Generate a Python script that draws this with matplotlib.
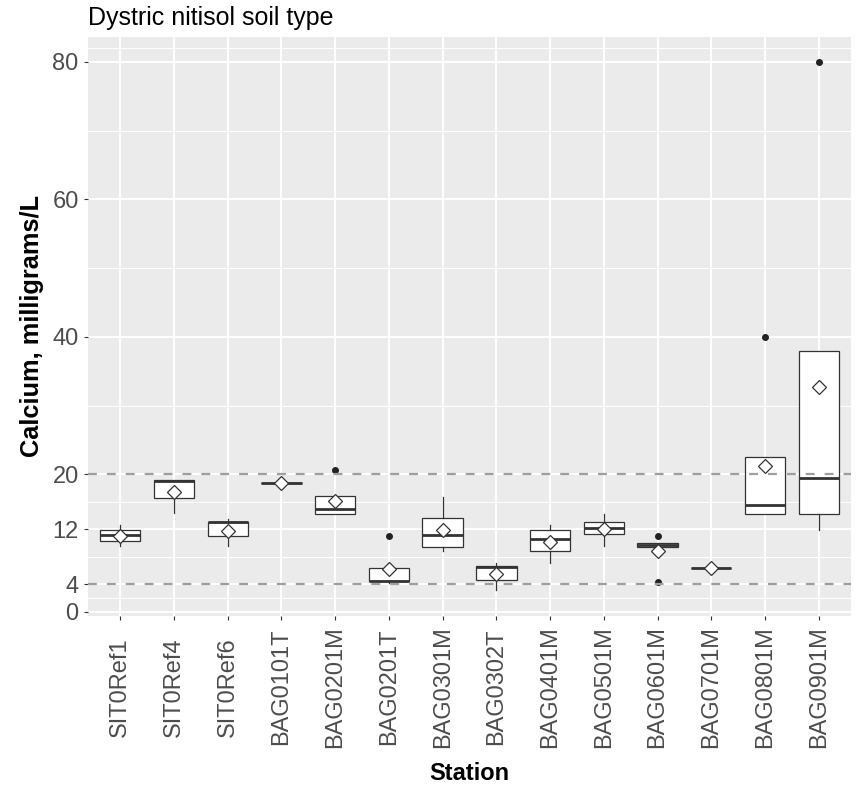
import matplotlib
matplotlib.use("Agg")
import matplotlib.pyplot as plt
from matplotlib.ticker import FixedLocator

# ---- data ----
stations = ["SIT0Ref1", "SIT0Ref4", "SIT0Ref6", "BAG0101T", "BAG0201M", "BAG0201T",
            "BAG0301M", "BAG0302T", "BAG0401M", "BAG0501M", "BAG0601M", "BAG0701M",
            "BAG0801M", "BAG0901M"]
q1 = [10.25, 16.6, 11.1, 18.8, 14.2, 4.45, 9.45, 4.6, 8.9, 11.3, 9.45, 6.35, 14.2, 14.2]
medians = [11.15, 19.1, 13.0, 18.8, 14.95, 4.55, 11.15, 6.5, 10.55, 12.15, 9.75, 6.35, 15.5, 19.5]
q3 = [11.85, 19.2, 13.05, 18.8, 16.85, 6.35, 13.7, 6.65, 11.85, 13.0, 9.95, 6.35, 22.5, 37.9]
whisker_low = [9.55, 14.4, 9.55, 18.8, 14.2, 4.2, 8.85, 3.15, 7.15, 9.6, 9.45, 6.35, 14.2, 11.9]
whisker_high = [12.6, 19.2, 13.5, 18.8, 16.85, 6.35, 16.65, 7.05, 12.65, 14.2, 9.95, 6.35, 22.5, 37.9]
means = [11.05, 17.45, 11.8, 18.7, 16.1, 6.2, 11.9, 5.45, 10.15, 12.05, 8.9, 6.35, 21.25, 32.65]
outliers = [[], [], [], [], [20.6], [11.1], [], [], [], [], [11.1, 4.4], [], [40.0], [80.0]]
y_ticks = [0, 4, 12, 20, 40, 60, 80]
y_minor = [2, 8, 16, 30, 50, 70, 82]
ref_lines = [4, 20]

title = "Dystric nitisol soil type"
xlabel = "Station"
ylabel = "Calcium, milligrams/L"

# ---- style ----
plt.rcParams['font.family'] = ['Liberation Sans', 'DejaVu Sans']
W, H = 856, 785
fig = plt.figure(figsize=(W / 100, H / 100), dpi=100)
ax = fig.add_axes([88 / W, 1 - 616 / H, (851 - 88) / W, (616 - 37) / H])
ax.set_facecolor('#EBEBEB')
for s in ax.spines.values():
    s.set_visible(False)

stats = []
for i, name in enumerate(stations):
    stats.append(dict(label=name, med=medians[i], q1=q1[i], q3=q3[i],
                      whislo=whisker_low[i], whishi=whisker_high[i],
                      mean=means[i], fliers=outliers[i]))

positions = list(range(1, len(stations) + 1))
edge = '#333333'
res = ax.bxp(stats, positions=positions, widths=0.75, showcaps=False,
             showmeans=True, patch_artist=True,
             boxprops=dict(facecolor='white', edgecolor=edge, linewidth=0.9),
             whiskerprops=dict(color=edge, linewidth=0.9),
             medianprops=dict(color=edge, linewidth=2.0, solid_capstyle='butt'),
             flierprops=dict(marker='o', markerfacecolor='#222222',
                             markeredgecolor='#222222', markersize=4.0),
             meanprops=dict(marker='D', markerfacecolor='white',
                            markeredgecolor=edge, markersize=7.6,
                            markeredgewidth=0.9),
             zorder=2)
for m in res['means']:
    m.set_zorder(5)

for yv in ref_lines:
    ax.axhline(yv, color='#9E9E9E', linewidth=1.6, linestyle=(0, (4.0, 4.5)), zorder=3)

ax.set_xlim(0.4, len(stations) + 0.6)
ax.set_ylim(-0.6, 83.6)
ax.yaxis.set_major_locator(FixedLocator(y_ticks))
ax.yaxis.set_minor_locator(FixedLocator(y_minor))
ax.set_yticklabels([str(t) for t in y_ticks])
ax.set_xticks(positions)
ax.set_xticklabels(stations, rotation=90, ha='center', va='center')

ax.set_axisbelow(True)
ax.grid(which='major', axis='both', color='white', linewidth=1.4)
ax.grid(which='minor', axis='y', color='white', linewidth=0.7)
ax.tick_params(axis='both', which='major', length=3.2, width=0.8, color=edge,
               labelcolor='#4D4D4D', labelsize=17)
ax.tick_params(axis='y', which='major', pad=3.5)
ax.tick_params(axis='x', which='major', pad=48)
ax.tick_params(axis='y', which='minor', length=0)

fig.text(88 / W, 1 - 24.5 / H, title, fontsize=18, color='black',
         ha='left', va='baseline')
fig.text((88 + 851) / 2 / W, 1 - 773 / H, xlabel, fontsize=17, fontweight='bold',
         ha='center', va='center')
fig.text(32 / W, 1 - 326 / H, ylabel, fontsize=18.3, fontweight='bold',
         rotation=90, ha='center', va='center')

fig.savefig('out.png', dpi=100)
